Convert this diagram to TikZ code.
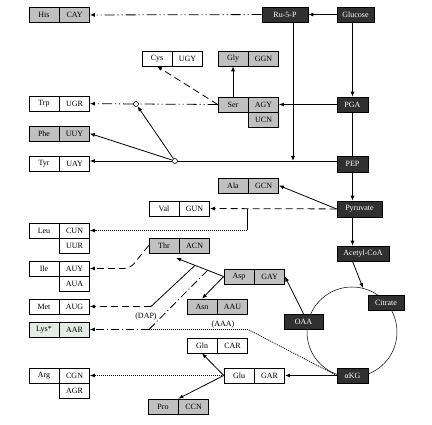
\documentclass[tikz,border=0pt]{standalone}
\usepackage{fontspec}
\setmainfont{Liberation Serif}
\usetikzlibrary{positioning,arrows.meta}

\definecolor{aagray}{HTML}{C0C0C0}
\definecolor{lysgray}{HTML}{E4EAE4}
\definecolor{metdark}{HTML}{303030}

\tikzset{
  cell/.style={draw,line width=0.6pt,minimum width=30pt,minimum height=15pt,inner sep=0pt},
  metab/.style={draw=black,line width=0.6pt,fill=metdark,text=white,minimum height=15pt,inner sep=1pt},
  junc/.style={circle,draw,line width=0.6pt,fill=white,inner sep=0pt,minimum size=5pt},
  arr/.style={-{Latex[length=5pt,width=4pt]}},
  dashdotdot/.style={dash pattern=on 10pt off 3pt on 1pt off 3pt on 1pt off 3pt},
  dashdot/.style={dash pattern=on 8pt off 3pt on 1pt off 3pt},
  longdash/.style={dash pattern=on 7pt off 4pt},
  dots/.style={dash pattern=on 1pt off 1pt},
}

\begin{document}
\begin{tikzpicture}[x=1pt,y=-1pt,line width=0.8pt,font=\fontsize{8}{9}\selectfont]
  \useasboundingbox (0,0) rectangle (432,425);

  % TCA cycle
  \coordinate (tca) at (352,332);
  \draw[line width=0.5pt] (tca) circle[radius=45];

  % Amino acid boxes with their codons
  \foreach \n/\x/\y/\aa/\cod/\col in {
      his/44/15/His/CAY/aagray, cys/157/58.5/Cys/UGY/white, gly/233/58.5/Gly/GGN/aagray,
      trp/44/103.5/Trp/UGR/white, ser/233/104.5/Ser/AGY/aagray, phe/44/133.5/Phe/UUY/aagray,
      tyr/44/163.5/Tyr/UAY/white, ala/233/185.5/Ala/GCN/aagray, val/164/208.5/Val/GUN/white,
      leu/44/230.5/Leu/CUN/white, thr/164/245.5/Thr/ACN/aagray, ile/44/268.5/Ile/AUY/white,
      asp/239/276.5/Asp/GAY/aagray, met/44/306.5/Met/AUG/white, asn/202/306.5/Asn/AAU/aagray,
      lys/44/329.5/Lys*/AAR/lysgray, gln/202/345.5/Gln/CAR/white, arg/44/375.5/Arg/CGN/white,
      glu/239/375.5/Glu/GAR/white, pro/163/406.5/Pro/CCN/aagray} {
    \node[cell,fill=\col] (\n) at (\x,\y) {\aa};
    \node[cell,fill=\col,right=0pt of \n] (\n c) {\cod};
  }
  % second codon rows
  \node[cell,fill=aagray,below=0pt of serc] (serc2) {UCN};
  \node[cell,below=0pt of leuc] (leuc2) {UUR};
  \node[cell,below=0pt of ilec] (ilec2) {AUA};
  \node[cell,below=0pt of argc] (argc2) {AGR};

  % Central metabolites
  \node[metab,minimum width=46pt] (ru5p) at (285,14.5) {Ru-5-P};
  \node[metab,minimum width=37pt] (glucose) at (355.5,14.5) {Glucose};
  \node[metab,minimum width=31pt] (pga) at (352.5,104.5) {PGA};
  \node[metab,minimum width=31pt,minimum height=16pt] (pep) at (352.5,164) {PEP};
  \node[metab,minimum width=45pt,minimum height=16pt] (pyruvate) at (359.5,209) {Pyruvate};
  \node[metab,minimum width=52pt] (acetylcoa) at (363,253.5) {Acetyl-CoA};
  \node[metab,minimum width=36pt] (citrate) at (386,302.5) {Citrate};
  \node[metab,minimum width=39pt] (oaa) at (303.5,321.5) {OAA};
  \node[metab,minimum width=31pt] (akg) at (352.5,375.5) {αKG};

  % branch points
  \node[junc] (trpj) at (136,104) {};
  \node[junc] (chor) at (175,161) {};
  \coordinate (e4p) at (293,161);
  \coordinate (leubr) at (247,209);
  \coordinate (ilebend) at (130,268.5);
  \coordinate (metbend) at (151,306.5);
  \coordinate (lysbend) at (149,329.5);
  \coordinate (aaabend) at (248,329.5);
  \coordinate (tcain) at (363,288);

  % Glycolysis and pentose phosphate
  \draw[arr] (glucose) -- (ru5p);
  \draw[arr] (glucose.south -| pga.north) -- (pga.north);
  \draw (pga) -- (pep);
  \draw[arr] (pep) -- (pep.south |- pyruvate.north);
  \draw[arr] (pyruvate.south -| pep.south) -- (pep.south |- acetylcoa.north);
  \draw[arr] (acetylcoa.south -| pep.south) -- (tcain);
  \draw[arr] (ru5p.south -| e4p) -- (e4p);
  \draw (chor) -- (chor -| pep.west);

  % Histidine
  \draw[arr,dashdotdot] (ru5p) -- (hisc);

  % Serine family
  \draw[arr] (pga) -- (serc);
  \draw[arr] (ser) -- (gly);
  \draw[arr,longdash] (ser.west) -- (cys.south);
  \draw[dashdotdot] (ser.west) -- (trpj);
  \draw[arr,dashdotdot] (trpj) -- (trpc);

  % Aromatic family
  \draw[arr] (chor) -- (trpj);
  \draw[arr] (chor) -- (phec.east);
  \draw[arr] (chor) -- (chor -| tyrc.east);

  % Pyruvate family
  \draw[arr] (pyruvate.west) -- (alac.east);
  \draw[arr,longdash] (pyruvate) -- (valc);
  \draw (leubr) -- (leubr |- leuc.east);
  \draw[arr,dots] (leubr |- leuc.east) -- (leuc.east);

  % Aspartate family
  \draw[arr,shorten >=13pt] (asp.west) -- coordinate[pos=0.27] (lysbr) coordinate[pos=0.48] (metbr) (thr.south);
  \draw[arr] (asp.west) -- (asn.north);
  \draw[arr] (oaa.north) -- (aspc.east);
  \draw[arr,longdash,rounded corners=6pt] (thr.west) -- (ilebend) -- (ilec);
  \draw (metbr) -- (metbend);
  \draw[arr,longdash] (metbend) -- (metc);
  \draw[dashdot] (lysbr) -- (lysbend);
  \draw[arr,dashdot] (lysbend) -- (lysc);
  \draw[dots] (akg.west) -- (aaabend) -- (lysbend);
  \node (dap) at (146,317) {(DAP)};
  \node (aaa) at (223,325) {(AAA)};

  % Glutamate family
  \draw[arr,line width=1.6pt] (akg) -- (gluc);
  \draw[arr] (glu.west) -- (gln.south);
  \draw[arr] (glu.west) -- (pro.north east);
  \draw[arr,dots] (glu) -- (argc);
\end{tikzpicture}
\end{document}
